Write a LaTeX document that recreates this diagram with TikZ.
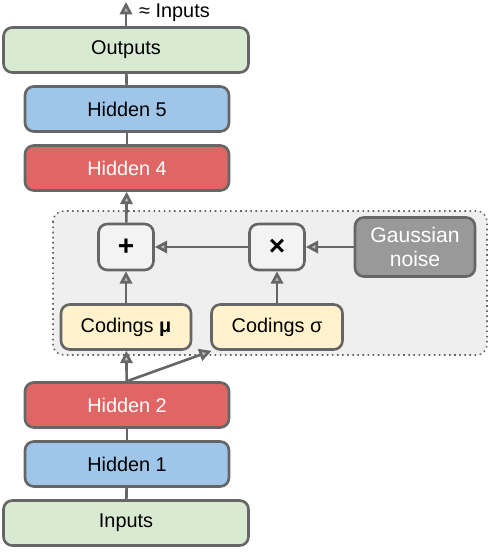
\documentclass[tikz,border=0pt]{standalone}
\usepackage{fontspec}
\setmainfont{Liberation Sans}
\usepackage{xcolor}
\usetikzlibrary{arrows.meta}

\definecolor{edgegray}{HTML}{666666}
\definecolor{layergreen}{HTML}{D9EAD3}
\definecolor{layerblue}{HTML}{9FC5E8}
\definecolor{layerred}{HTML}{E06666}
\definecolor{codeyellow}{HTML}{FFF2CC}
\definecolor{opgray}{HTML}{F3F3F3}
\definecolor{noisegray}{HTML}{999999}
\definecolor{panelgray}{HTML}{EFEFEF}

\tikzset{
  layer/.style={draw=edgegray, line width=1.5pt, rounded corners=5pt,
    minimum height=0.9cm, font=\fontsize{11.3}{13.5}\selectfont},
  opbox/.style={layer, fill=opgray, minimum width=1.1cm, minimum height=0.92cm,
    font=\fontsize{16}{18}\selectfont\bfseries},
  link/.style={draw=edgegray, line width=1.5pt},
  flow/.style={link, -{Triangle[width=7pt,length=7pt,fill=gray!55]}}
}

\begin{document}
\begin{tikzpicture}
    \useasboundingbox (0,0) rectangle (9.84,-11.06);

    % Panel round the sampling part
    \draw[edgegray, dotted, line width=0.9pt, fill=panelgray, rounded corners=6pt]
        (1.06,-4.22) rectangle (9.74,-7.10);

    % Layers
    \node[layer, fill=layergreen, minimum width=4.9cm] (out) at (2.52,-1.00) {Outputs};
    \node[layer, fill=layerblue, minimum width=4.08cm] (h5) at (2.54,-2.18) {Hidden 5};
    \node[layer, fill=layerred, text=white, minimum width=4.08cm] (h4) at (2.54,-3.36) {Hidden 4};
    \node[layer, fill=layerred, text=white, minimum width=4.08cm] (h2) at (2.54,-8.10) {Hidden 2};
    \node[layer, fill=layerblue, minimum width=4.08cm] (h1) at (2.54,-9.28) {Hidden 1};
    \node[layer, fill=layergreen, minimum width=4.9cm] (in) at (2.52,-10.46) {Inputs};

    % Codings and sampling
    \node[layer, fill=codeyellow, minimum width=2.6cm] (mu) at (2.52,-6.54) {Codings \textbf{μ}};
    \node[layer, fill=codeyellow, minimum width=2.62cm] (sigma) at (5.54,-6.54) {Codings σ};
    \node[opbox] (plus) at (2.52,-4.94) {+};
    \node[opbox] (times) at (5.54,-4.94) {×};
    \node[layer, fill=noisegray, text=white, minimum width=2.4cm, minimum height=1.18cm,
        align=center, font=\fontsize{12}{14}\selectfont] (noise) at (8.30,-4.94) {Gaussian\\noise};

    % Output label
    \coordinate (top) at (2.52,-0.04);
    \node[anchor=west, font=\fontsize{11.3}{13.5}\selectfont] (approx) at (2.66,-0.26) {≈ Inputs};

    % Connections
    \draw[link] (in) -- (h1);
    \draw[link] (h1) -- (h2);
    \draw[flow] (h2) -- (mu);
    \draw[flow] (h2.north) -- (sigma.-160);
    \draw[flow] (mu) -- (plus);
    \draw[flow] (sigma) -- (times);
    \draw[flow] (noise) -- (times);
    \draw[flow] (times) -- (plus);
    \draw[flow] (plus) -- (h4);
    \draw[link] (h4) -- (h5);
    \draw[link] (h5) -- (out);
    \draw[flow] (out) -- (top);
\end{tikzpicture}
\end{document}
